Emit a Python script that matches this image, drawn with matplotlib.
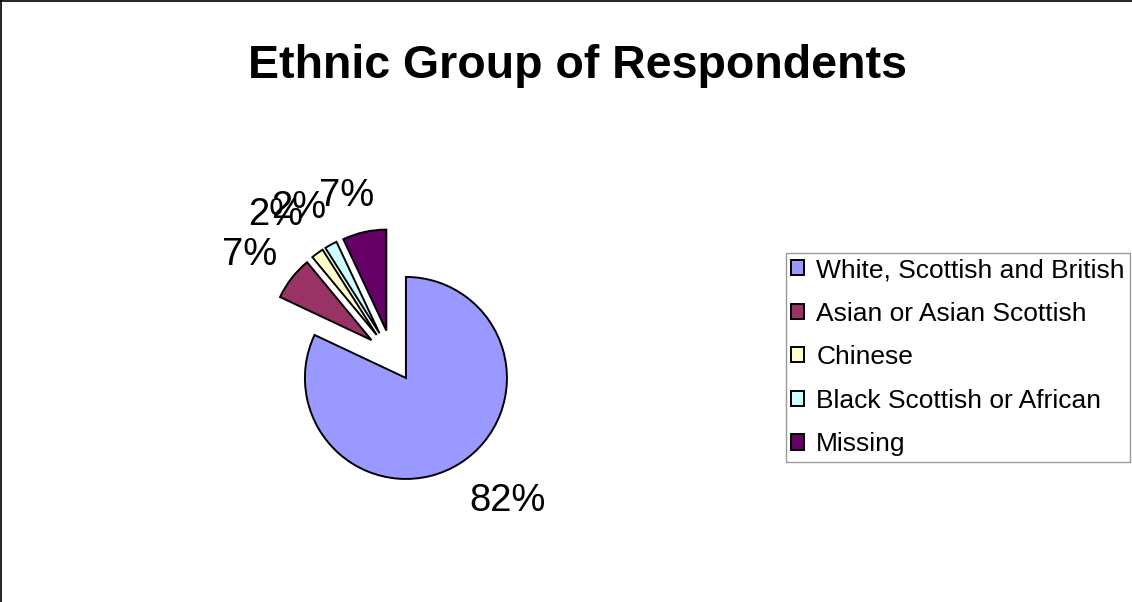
"""Ethnic group of respondents - exploded pie chart."""
import math
import matplotlib
matplotlib.use("Agg")
import matplotlib.pyplot as plt
from matplotlib.lines import Line2D

plt.rcParams["font.family"] = ["Liberation Sans", "DejaVu Sans"]

categories = ["White, Scottish and British", "Asian or Asian Scottish",
              "Chinese", "Black Scottish or African", "Missing"]
values = [82, 7, 2, 2, 7]
colors = ["#9999FF", "#993366", "#FFFFCC", "#CCFFFF", "#660066"]

# per-label distance from the exploded wedge centre (in radii) and angular nudge (deg)
label_dist = [1.58, 1.47, 1.55, 1.47, 1.39]
label_rot = [7.0, 3.0, 4.0, 4.0, 4.0]

W, H = 1132, 602
R = 101
fig = plt.figure(figsize=(W / 100, H / 100), dpi=100)
ax = fig.add_axes([0, 0, 1, 1])

wedges, _ = ax.pie(values, colors=colors, startangle=90, counterclock=False,
                   radius=R, center=(392, H - 356), explode=[26] * len(values),
                   wedgeprops=dict(edgecolor="black", linewidth=1.4), frame=True)
ax.set_xlim(0, W)
ax.set_ylim(0, H)
ax.set_aspect("equal")
ax.axis("off")

total = sum(values)
for w, v, d, rot in zip(wedges, values, label_dist, label_rot):
    mid = math.radians((w.theta1 + w.theta2) / 2 + rot)
    cx, cy = w.center
    ax.text(cx + d * w.r * math.cos(mid), cy + d * w.r * math.sin(mid),
            f"{v / total * 100:.0f}%", ha="center", va="center", fontsize=27.5)

fig.text(577 / W, 1 - 78 / H, "Ethnic Group of Respondents", ha="center",
         va="baseline", fontsize=33.5, fontweight="bold")

leg = fig.legend(wedges, categories, loc="upper left",
                 bbox_to_anchor=(786 / W, 1 - 253 / H), fontsize=19,
                 frameon=True, fancybox=False, edgecolor="#808080",
                 handlelength=0.5, handleheight=0.5, handletextpad=0.45,
                 labelspacing=0.74, borderpad=0.2, borderaxespad=0)
leg.get_frame().set_linewidth(1.0)

# outer chart border (only top and left visible in the crop)
fig.add_artist(Line2D([0.5 / W, 0.5 / W], [0, 1], color="black", lw=1.2,
                      transform=fig.transFigure))
fig.add_artist(Line2D([0, 1], [1 - 0.5 / H, 1 - 0.5 / H], color="black", lw=1.2,
                      transform=fig.transFigure))

fig.savefig("out.png", dpi=100)
